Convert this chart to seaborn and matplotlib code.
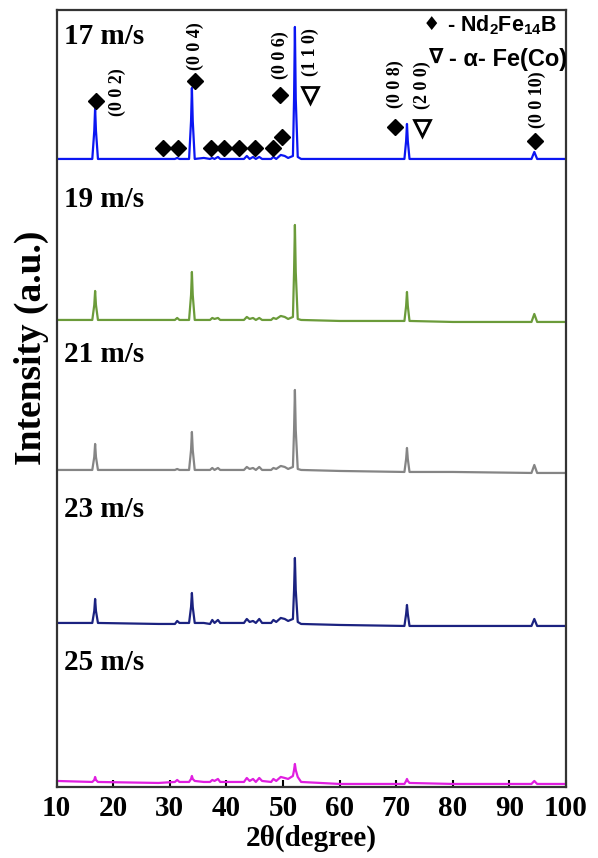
import matplotlib
matplotlib.use("Agg")
import matplotlib.pyplot as plt
import pandas as pd
import seaborn as sns

# shared 2-theta vertices of the digitised patterns
two_theta = [10, 16.3, 16.65, 16.8, 16.95, 17.3, 28, 30.9, 31.3, 31.7,
             33.4, 33.75, 33.9, 34.05, 34.4, 36.0, 37.1, 37.5, 37.9, 38.5,
             38.9, 43.1, 43.6, 44.1, 44.7, 45.2, 45.8, 46.3, 47.9, 48.3,
             48.8, 49.6, 50.3, 50.9, 51.75, 51.95, 52.1, 52.25, 52.6, 53.2,
             60, 71.45, 71.75, 71.9, 72.05, 72.35, 80, 93.9, 94.4, 94.9, 100]

# intensity above each pattern's own baseline (a.u.)
i_17 = [0, 0, 28, 51, 28, 0, 0, 0, 1, 0,
        0, 38, 71, 38, 0, 1, 0, 1, 0, 2,
        0, 0, 3, 0, 2, 0, 2, 0, 0, 2,
        0, 4, 3, 1, 3, 60, 132, 60, 2, 0,
        0, 0, 18, 35, 18, 0, 0, 0, 7, 0, 0]
i_19 = [0, 0, 15, 29, 15, 0, 0, 0, 2, 0,
        0, 25, 48, 25, 0, 0, 0, 2, 1, 2,
        0, 0, 3, 1, 2, 0, 2, 0, 0, 2,
        1, 4, 3, 1, 3, 48, 95, 48, 1, 0,
        -1, -1, 14, 28, 14, -1, -2, -2, 6, -2, -2]
i_21 = [0, 0, 13, 26, 13, 0, 0, 0, 1, 0,
        0, 20, 38, 20, 0, 0, 0, 2, 0, 2,
        0, 0, 3, 1, 2, 0, 3, 0, 0, 2,
        1, 4, 3, 1, 3, 40, 80, 40, 1, 0,
        -1, -2, 11, 22, 11, -2, -2, -3, 5, -3, -3]
i_23 = [0, 0, 12, 24, 12, 0, -1, -1, 2, 0,
        0, 16, 30, 16, 0, 0, -1, 3, 0, 3,
        0, 0, 4, 1, 2, 0, 4, 0, 0, 3,
        1, 5, 4, 2, 4, 33, 65, 33, 1, -1,
        -2, -3, 9, 18, 9, -3, -3, -3, 4, -3, -3]
i_25 = [1, 0, 2, 5, 2, 0, -1, 0, 2, 0,
        0, 3, 6, 3, 1, 0, 0, 2, 1, 3,
        0, 0, 4, 1, 3, 0, 4, 1, 0, 3,
        1, 5, 4, 3, 6, 12, 18, 12, 5, 0,
        -2, -2, 1, 3, 1, -1, -2, -2, 1, -2, -2]

speeds = ["17 m/s", "19 m/s", "21 m/s", "23 m/s", "25 m/s"]
patterns = [i_17, i_19, i_21, i_23, i_25]

# phase markers for the 17 m/s pattern
nd2fe14b_theta = [17.0, 34.5, 49.5, 69.8, 94.5, 28.8, 31.4, 37.3, 39.6, 42.2, 45.1, 48.2, 49.8]
nd2fe14b_level = [686, 706, 692, 660, 646, 639, 639, 639, 639, 639, 639, 639, 650]
fe_co_theta = [54.8, 74.6]
fe_co_level = [692, 659]

hkl_labels = ["(0 0 2)", "(0 0 4)", "(0 0 6)", "(1 1 0)", "(0 0 8)", "(2 0 0)", "(0 0 10)"]
hkl_theta = [20.7, 34.5, 49.5, 54.8, 69.8, 74.7, 94.9]
hkl_level = [695, 741, 732, 735, 703, 702, 687]

# layout / style
offsets = [628, 467, 317, 164, 5]
label_levels = [750, 587, 432, 277, 124]
colors = ["#0b16f2", "#6b9b3a", "#858585", "#1b2280", "#e01ee0"]

frames = []
for speed, counts, off in zip(speeds, patterns, offsets):
    frames.append(pd.DataFrame({
        "two_theta": two_theta,
        "intensity": [c + off for c in counts],
        "speed": speed,
    }))
data = pd.concat(frames, ignore_index=True)

sns.set_theme(style="ticks")
plt.rcParams["font.family"] = ["Liberation Serif", "DejaVu Sans"]
plt.rcParams["font.weight"] = "bold"
plt.rcParams["text.color"] = "black"
plt.rcParams["axes.labelcolor"] = "black"
plt.rcParams["xtick.color"] = "black"
plt.rcParams["mathtext.fontset"] = "custom"
plt.rcParams["mathtext.rm"] = "Liberation Sans:bold"
plt.rcParams["mathtext.it"] = "Liberation Sans:bold"
plt.rcParams["mathtext.bf"] = "Liberation Sans:bold"
plt.rcParams["mathtext.default"] = "rm"

fig = plt.figure(figsize=(5.98, 8.58), dpi=100)
ax = fig.add_axes([0.0947, 0.0828, 0.8518, 0.9056])

sns.lineplot(
    data=data, x="two_theta", y="intensity", hue="speed",
    palette=dict(zip(speeds, colors)), estimator=None, sort=False,
    linewidth=1.6, legend=False, ax=ax,
)

ax.plot(nd2fe14b_theta, nd2fe14b_level, ls="none", marker="D", ms=8, color="black")
ax.plot(fe_co_theta, fe_co_level, ls="none", marker="v", ms=12,
        mfc="white", mec="black", mew=2)

for lab, x, y in zip(hkl_labels, hkl_theta, hkl_level):
    ax.text(x, y, lab, rotation=90, ha="center", va="center", fontsize=13, fontweight="bold")

for speed, y in zip(speeds, label_levels):
    ax.text(11.3, y, speed, ha="left", va="center", fontsize=21, fontweight="bold")

# phase key, top right
sans = ["Liberation Sans", "DejaVu Sans"]
ax.text(0.736, 0.981, "♦", transform=ax.transAxes, ha="center", va="center",
        fontsize=14, family="DejaVu Sans", fontweight="bold")
ax.text(0.983, 0.981, "- Nd$_2$Fe$_{14}$B", transform=ax.transAxes, ha="right", va="center",
        fontsize=15.5, fontweight="bold", family=sans)
ax.text(0.745, 0.939, "∇", transform=ax.transAxes, ha="center", va="center",
        fontsize=15, family="DejaVu Sans")
ax.text(1.003, 0.936, "- α- Fe(Co)", transform=ax.transAxes, ha="right", va="center",
        fontsize=17, fontweight="bold", family=sans)

ax.set_xlim(10, 100)
ax.set_ylim(0, 777)
ax.set_xticks(range(10, 101, 10))
ax.set_yticks([])
ax.tick_params(axis="x", direction="in", length=5, width=1.5, labelsize=21, pad=6, colors="black")
for lbl in ax.get_xticklabels():
    lbl.set_fontweight("bold")
for side in ["left", "right", "top", "bottom"]:
    ax.spines[side].set_visible(True)
    ax.spines[side].set_linewidth(1.6)
    ax.spines[side].set_color("#333333")

ax.set_xlabel("2θ(degree)", fontsize=21, fontweight="bold", labelpad=2)
ax.set_ylabel("")
fig.text(0.052, 0.595, "Intensity (a.u.)", rotation=90, ha="center", va="center",
         fontsize=27, fontweight="bold")

fig.savefig("out.png", dpi=100)
